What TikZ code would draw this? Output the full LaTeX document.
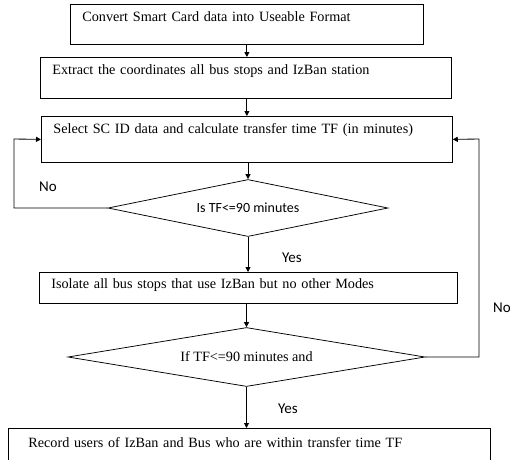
\documentclass[tikz,border=0pt]{standalone}
\usepackage{fontspec}
\setmainfont{Liberation Serif}
\newfontfamily\labelfont{Carlito}
\usetikzlibrary{arrows.meta,shapes.geometric}

\begin{document}
\begin{tikzpicture}[x=1pt,y=-1pt,
	every node/.style={inner sep=0pt},
	procbox/.style={draw, line width=0.75pt, anchor=north west, align=left, inner xsep=12pt,
		font=\fontsize{14.2}{16}\selectfont},
	decision/.style={draw, line width=0.75pt, diamond, aspect=5},
	flow/.style={line width=0.85pt, -{Triangle[length=5pt,width=5pt]}},
	tag/.style={font=\labelfont\fontsize{15}{17}\selectfont}]
	\useasboundingbox (0,0) rectangle (510,459);
	% process boxes
	\node [procbox, text width=329pt, text height=17pt, text depth=23pt] (convert) at (70,4) {Convert Smart Card data into Useable Format};
	\node [procbox, text width=387pt, text height=17pt, text depth=24pt] (extract) at (40,57) {Extract the coordinates all bus stops and IzBan station};
	\node [procbox, text width=387pt, text height=17pt, text depth=29pt] (select) at (41,116) {Select SC ID data and calculate transfer time TF (in minutes)};
	\node [procbox, text width=394pt, text height=16pt, text depth=15pt] (isolate) at (39,272) {Isolate all bus stops that use IzBan but no other Modes};
	\node [procbox, inner xsep=20pt, text width=442pt, text height=19pt, text depth=25pt] (record) at (8,428) {Record users of IzBan and Bus who are within transfer time TF};
	% decisions
	\node [decision, minimum width=280pt, minimum height=57pt, font=\labelfont\fontsize{14}{16}\selectfont] (check) at (248,208) {Is TF<=90 minutes};
	\node [decision, minimum width=357pt, minimum height=59pt, font=\fontsize{14.2}{16}\selectfont] (checktwo) at (246.5,357) {If TF<=90 minutes and};
	\coordinate (leftturn) at (14,139);
	\coordinate (rightturn) at (479,139);
	% connectors
	\draw [flow] (convert.south) -- (convert.south |- extract.north);
	\draw [flow] (extract.south -| convert.south) -- (convert.south |- select.north);
	\draw [flow] (select.south -| check.north) -- (check.north);
	\draw [flow] (check.south) -- (check.south |- isolate.north);
	\draw [flow] (isolate.south -| checktwo.north) -- (checktwo.north);
	\draw [flow] (checktwo.south) -- (checktwo.south |- record.north);
	\draw [flow] (check.west) -| (leftturn) -- (select.west);
	\draw [flow] (checktwo.east) -| (rightturn) -- (select.east);
	% labels
	\node [tag] (nol) at (48,187) {No};
	\node [tag] (yesa) at (292,258) {Yes};
	\node [tag] (yesb) at (288,409) {Yes};
	\node [tag, anchor=west] (nor) at (493,308) {No};
\end{tikzpicture}
\end{document}
